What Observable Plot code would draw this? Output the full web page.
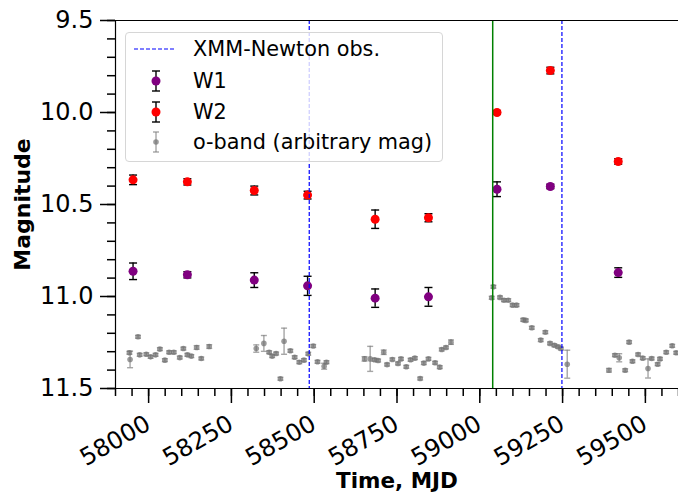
<!DOCTYPE html>
<html><head><meta charset="utf-8">
<script src="https://cdn.jsdelivr.net/npm/d3@7"></script>
<script src="https://cdn.jsdelivr.net/npm/@observablehq/plot@0.6"></script>
<style>
body{margin:0;background:#fff;font-family:"DejaVu Sans",sans-serif;}
#wrap{position:relative;width:678px;height:492px;overflow:hidden;background:#fff}
#legend{position:absolute;left:125px;top:32px;width:318px;height:130px;box-sizing:border-box;border:1px solid #d6d6d6;border-radius:4px;background:rgba(255,255,255,0.8);}
#legend svg{position:absolute;left:0;top:0}
#legend span{position:absolute;left:67px;font-size:20.8px;line-height:22px;white-space:nowrap;color:#000}
</style></head><body><div id="wrap"></div>
<script>
// ---- data ----
const wiseMjd = [57953, 58117, 58319, 58480, 58684, 58845, 59052, 59213, 59418];
const w1Mag = [10.863, 10.882, 10.911, 10.942, 11.009, 11.002, 10.417, 10.402, 10.870];
const w1Err = [0.045, 0.017, 0.040, 0.052, 0.050, 0.051, 0.040, 0.012, 0.026];
const w2Mag = [10.366, 10.377, 10.424, 10.449, 10.580, 10.572, 10.000, 9.772, 10.266];
const w2Err = [0.026, 0.017, 0.024, 0.021, 0.050, 0.022, 0.010, 0.018, 0.015];

const oMjd = [57942, 57944, 57968, 57973, 57993, 58006, 58021, 58034, 58049, 58062, 58076, 58094, 58105, 58117, 58129, 58145, 58159, 58183,
  58325, 58348, 58364, 58373, 58385, 58398, 58409, 58428, 58441, 58455, 58469, 58482, 58497, 58510, 58530, 58537,
  58652, 58669, 58682, 58693, 58710, 58720, 58736, 58753, 58762, 58778, 58791, 58804, 58820, 58831, 58845, 58865, 58879, 58885, 58898, 58913,
  59036, 59041, 59061, 59073, 59086, 59099, 59111, 59131, 59139, 59157, 59184, 59198, 59212, 59225, 59236, 59245, 59264,
  59390, 59408, 59421, 59439, 59451, 59461, 59478, 59492, 59508, 59519, 59537, 59544, 59563, 59581, 59593];
const oMag = [11.306, 11.342, 11.219, 11.317, 11.314, 11.328, 11.317, 11.286, 11.346, 11.303, 11.303, 11.332, 11.283, 11.317, 11.324, 11.277, 11.337, 11.272,
  11.283, 11.255, 11.303, 11.324, 11.310, 11.447, 11.243, 11.295, 11.330, 11.357, 11.346, 11.311, 11.269, 11.355, 11.379, 11.357,
  11.339, 11.339, 11.344, 11.348, 11.303, 11.370, 11.342, 11.364, 11.339, 11.382, 11.344, 11.335, 11.446, 11.362, 11.339, 11.360, 11.384, 11.288, 11.277, 11.248,
  11.007, 10.947, 11.005, 11.020, 11.020, 11.047, 11.047, 11.127, 11.130, 11.170, 11.237, 11.194, 11.255, 11.265, 11.273, 11.283, 11.368,
  11.401, 11.319, 11.333, 11.401, 11.248, 11.352, 11.315, 11.335, 11.391, 11.337, 11.368, 11.339, 11.303, 11.268, 11.306];
const oErr = [0.008, 0.045, 0.008, 0.008, 0.008, 0.008, 0.008, 0.008, 0.008, 0.008, 0.008, 0.008, 0.008, 0.008, 0.008, 0.010, 0.008, 0.010,
  0.020, 0.043, 0.008, 0.008, 0.008, 0.008, 0.071, 0.008, 0.008, 0.008, 0.008, 0.008, 0.008, 0.008, 0.016, 0.008,
  0.012, 0.068, 0.008, 0.008, 0.012, 0.008, 0.008, 0.008, 0.008, 0.008, 0.008, 0.008, 0.008, 0.008, 0.008, 0.008, 0.008, 0.008, 0.008, 0.012,
  0.008, 0.008, 0.008, 0.008, 0.008, 0.008, 0.008, 0.008, 0.008, 0.008, 0.008, 0.008, 0.008, 0.008, 0.008, 0.008, 0.076,
  0.010, 0.008, 0.022, 0.008, 0.008, 0.008, 0.008, 0.008, 0.052, 0.008, 0.008, 0.008, 0.008, 0.008, 0.008];

const xmmObs = [58485, 59248];
const flareMjd = [59039];

const xTicks = [58000, 58250, 58500, 58750, 59000, 59250, 59500];
const yTicks = [9.5, 10.0, 10.5, 11.0, 11.5];
const xMinorTicks = d3.range(57900, 59601, 50);
const yMinorTicks = d3.range(95, 116, 1).map(v => v / 10);
const xDomain = [57900, 59600];
const yDomain = [9.5, 11.5];

// ---- tables ----
const w1 = wiseMjd.map((m, i) => ({mjd: m, mag: w1Mag[i], err: w1Err[i]}));
const w2 = wiseMjd.map((m, i) => ({mjd: m, mag: w2Mag[i], err: w2Err[i]}));
const ob = oMjd.map((m, i) => ({mjd: m, mag: oMag[i], err: oErr[i]}));

const capSymbol = {draw(ctx, size) { const w = Math.sqrt(size / Math.PI); ctx.moveTo(-w, 0); ctx.lineTo(w, 0); }};

function errMarks(data, color, opacity, capR, dotR, fill, fillOpacity) {
  return [
    Plot.ruleX(data, {x: "mjd", y1: d => d.mag - d.err, y2: d => d.mag + d.err, stroke: color, strokeOpacity: opacity, strokeWidth: 1.4}),
    Plot.dot(data, {x: "mjd", y: d => d.mag - d.err, symbol: capSymbol, r: capR, stroke: color, strokeOpacity: opacity, strokeWidth: 1.4}),
    Plot.dot(data, {x: "mjd", y: d => d.mag + d.err, symbol: capSymbol, r: capR, stroke: color, strokeOpacity: opacity, strokeWidth: 1.4}),
    Plot.dot(data, {x: "mjd", y: "mag", r: dotR, fill: fill, fillOpacity: fillOpacity, stroke: null})
  ];
}

const plot = Plot.plot({
  width: 678, height: 492,
  marginLeft: 115, marginRight: 0, marginTop: 20, marginBottom: 104,
  style: {fontFamily: "DejaVu Sans", color: "black", background: "white"},
  x: {domain: xDomain},
  y: {domain: yDomain, reverse: true},
  marks: [
    Plot.axisX({ticks: xMinorTicks, tickSize: 8, tickFormat: () => "", strokeWidth: 1.5, label: null}),
    Plot.axisX({ticks: xTicks, tickSize: 15, tickFormat: () => "", strokeWidth: 1.5, label: null}),
    Plot.text(xTicks, {x: d => d, frameAnchor: "bottom", rotate: -30, textAnchor: "end", lineAnchor: "top", dx: -5, dy: 25, fontSize: 24, text: d => String(d)}),
    Plot.axisY({ticks: yMinorTicks, tickSize: 8, tickFormat: () => "", strokeWidth: 1.5, label: null}),
    Plot.axisY({ticks: yTicks, tickSize: 15, tickPadding: 7, tickFormat: d => d.toFixed(1), fontSize: 24, strokeWidth: 1.5, label: null}),
    ...errMarks(ob, "#808080", 0.7, 3, 2.8, "#707070", 0.7),
    ...errMarks(w1, "black", 1, 4, 4.5, "purple", 1),
    ...errMarks(w2, "black", 1, 4, 4.5, "red", 1),
    Plot.ruleX(flareMjd, {stroke: "green", strokeWidth: 1.5}),
    Plot.ruleX(xmmObs, {stroke: "blue", strokeDasharray: "4,2", strokeWidth: 1.2}),
    Plot.ruleY(yDomain, {stroke: "black", strokeWidth: 1.2}),
    Plot.ruleX([xDomain[0]], {stroke: "black", strokeWidth: 1.2}),
    Plot.text(["Time, MJD"], {frameAnchor: "bottom", textAnchor: "middle", lineAnchor: "bottom", dy: 99, fontSize: 21.5, fontWeight: "bold"}),
    Plot.text(["Magnitude"], {frameAnchor: "left", textAnchor: "middle", lineAnchor: "middle", dx: -93, rotate: -90, fontSize: 22, fontWeight: "bold"})
  ]
});
const wrap = document.getElementById("wrap");
wrap.appendChild(plot);

// ---- legend ----
const legendItems = [
  {label: "XMM-Newton obs.", kind: "dash"},
  {label: "W1", kind: "err", color: "purple"},
  {label: "W2", kind: "err", color: "red"},
  {label: "o-band (arbitrary mag)", kind: "oband"}
];
const rowY = [16, 48, 79, 109];
const leg = document.createElement("div");
leg.id = "legend";
let svg = '<svg width="318" height="130">';
legendItems.forEach((it, i) => {
  const y = rowY[i];
  if (it.kind === "dash") {
    svg += `<line x1="8" x2="50" y1="${y}" y2="${y}" stroke="blue" stroke-width="1.2" stroke-dasharray="4,2"/>`;
  } else if (it.kind === "err") {
    svg += `<line x1="30" x2="30" y1="${y-10}" y2="${y+10}" stroke="black" stroke-width="1.4"/>`;
    svg += `<line x1="26" x2="34" y1="${y-10}" y2="${y-10}" stroke="black" stroke-width="1.4"/>`;
    svg += `<line x1="26" x2="34" y1="${y+10}" y2="${y+10}" stroke="black" stroke-width="1.4"/>`;
    svg += `<circle cx="30" cy="${y}" r="4.5" fill="${it.color}"/>`;
  } else {
    svg += `<g stroke="#808080" stroke-opacity="0.7" stroke-width="1.4"><line x1="30" x2="30" y1="${y-10}" y2="${y+10}"/><line x1="27" x2="33" y1="${y-10}" y2="${y-10}"/><line x1="27" x2="33" y1="${y+10}" y2="${y+10}"/></g>`;
    svg += `<circle cx="30" cy="${y}" r="2.8" fill="#707070" fill-opacity="0.7"/>`;
  }
});
svg += '</svg>';
leg.innerHTML = svg + legendItems.map((it, i) => `<span style="top:${rowY[i] - 11}px">${it.label}</span>`).join("");
wrap.appendChild(leg);
</script>
</body></html>
